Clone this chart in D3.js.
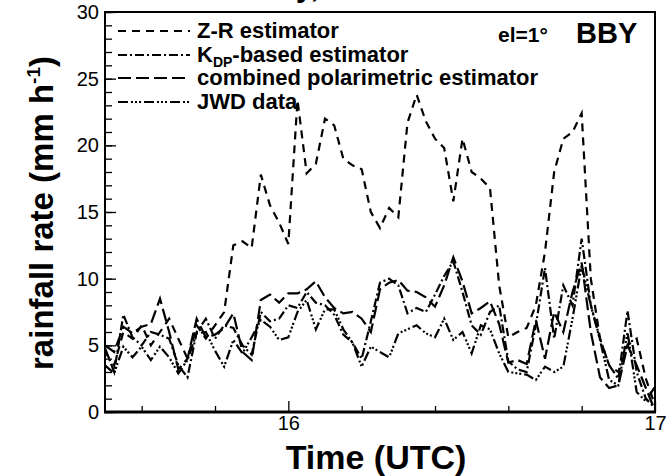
<!DOCTYPE html>
<html>
<head>
<meta charset="utf-8">
<script src="https://cdn.jsdelivr.net/npm/d3@7"></script>
<style>
  body { margin: 0; background: #fff; }
  svg text { font-family: "Liberation Sans", Arial, Helvetica, sans-serif; fill: #000; }
</style>
</head>
<body>
<svg id="chart" width="666" height="476"></svg>
<script>
// minutes after 15 UTC
var minutes = [30, 31.5, 33, 34.5, 36, 37.5, 39, 40.5, 42, 43.5,
  45, 46.5, 48, 49.5, 51, 52.5, 54, 55.5, 57, 58.5,
  60, 61.5, 63, 64.5, 66, 67.5, 69, 70.5, 72, 73.5,
  75, 76.5, 78, 79.5, 81, 82.5, 84, 85.5, 87, 88.5,
  90, 91.5, 93, 94.5, 96, 97.5, 99, 100.5, 102, 103.5,
  105, 106.5, 108, 109.5, 111, 112.5, 114, 115.5, 117, 118.5, 120];

var zrValues = [4.5, 3.5, 6.0, 5.5, 6.5, 5.0, 6.0, 7.0, 5.5, 4.0,
  6.5, 5.5, 6.5, 7.5, 12.5, 12.8, 12.3, 17.8, 15.5, 14.2,
  12.6, 23.4, 17.9, 18.6, 22.0, 21.5, 19.0, 18.5, 18.2, 15.0,
  13.8, 15.3, 14.6, 21.7, 23.8, 21.8, 20.5, 19.8, 15.8, 20.5,
  18.0, 17.5, 16.8, 9.5, 5.6, 6.0, 6.3, 8.0, 12.0, 18.0,
  20.5, 21.0, 22.4, 10.0, 5.5, 3.5, 3.0, 5.0, 5.5, 2.5, 0.5];

var kdpValues = [4.8, 3.0, 7.3, 5.6, 5.0, 6.0, 5.8, 5.5, 3.5, 2.6,
  6.0, 7.0, 5.5, 6.5, 6.3, 5.0, 4.3, 7.5, 6.8, 7.0,
  8.0, 7.8, 9.0, 8.2, 8.0, 7.3, 5.8, 5.2, 4.0, 6.8,
  9.7, 10.0, 9.5, 7.4, 7.8, 7.5, 8.8, 10.2, 11.3, 9.0,
  6.5, 5.8, 7.5, 8.0, 3.8, 3.2, 3.0, 6.5, 10.8, 5.5,
  9.5, 8.0, 13.0, 8.0, 5.5, 3.5, 2.5, 7.6, 3.0, 1.0, 0.3];

var combinedValues = [5.0, 4.5, 6.4, 5.9, 6.4, 6.6, 8.5, 6.0, 3.2, 4.0,
  7.0, 5.6, 5.8, 6.3, 7.4, 4.5, 3.9, 8.4, 8.8, 8.2,
  8.9, 8.9, 9.2, 9.8, 8.6, 7.8, 7.4, 7.5, 7.0, 6.0,
  9.2, 9.7, 9.9, 9.1, 9.0, 8.6, 7.9, 9.5, 11.6, 9.8,
  7.4, 7.8, 8.3, 6.6, 3.7, 3.9, 3.6, 6.9, 4.0, 7.5,
  6.0, 9.0, 11.2, 6.0, 2.6, 1.8, 2.0, 5.0, 3.5, 1.8, 0.1];

var jwdValues = [3.5, 2.9, 4.9, 4.1, 4.9, 3.9, 4.9, 4.1, 2.9, 3.9,
  5.9, 6.0, 4.6, 3.4, 5.4, 4.4, 5.6, 6.9, 6.4, 5.4,
  5.6, 7.5, 8.4, 6.2, 7.7, 7.7, 6.2, 5.2, 3.4, 4.9,
  4.5, 4.1, 5.9, 6.2, 6.5, 5.9, 5.6, 7.0, 5.4, 6.0,
  4.4, 6.5, 6.2, 4.4, 3.0, 2.9, 2.8, 2.4, 3.4, 3.0,
  3.4, 7.0, 11.0, 8.0, 5.4, 2.4, 2.0, 6.0, 1.5, 0.8, 1.9];

var xMajorTicks = [16, 17];
var xMinorTicks = [15.6, 15.8, 16.2, 16.4, 16.6, 16.8];
var yMajorTicks = [0, 5, 10, 15, 20, 25, 30];

var series = [
  { name: "zr", values: zrValues, dash: "8,6" },
  { name: "kdp", values: kdpValues, dash: "9,3,2,3" },
  { name: "combined", values: combinedValues, dash: "13,5" },
  { name: "jwd", values: jwdValues, dash: "10,3,2,2,2,2,2,3" }
];

var svg = d3.select("#chart");
var plotLeft = 105, plotRight = 655, plotTop = 12, plotBottom = 412;

var x = d3.scaleLinear().domain([15.5, 17]).range([plotLeft, plotRight]);
var y = d3.scaleLinear().domain([0, 30]).range([plotBottom, plotTop]);

// cut-off title at the very top
svg.append("text")
  .attr("x", 296).attr("y", -3)
  .style("font-size", "30px").style("font-weight", "bold")
  .text("y,");

// y axis: minor ticks, then major ticks with labels
svg.append("g")
  .attr("transform", "translate(" + plotLeft + ",0)")
  .call(d3.axisLeft(y).ticks(30).tickSizeInner(-7).tickSizeOuter(0).tickFormat(""))
  .call(function (g) { g.select(".domain").remove(); });

svg.append("g")
  .attr("transform", "translate(" + plotLeft + ",0)")
  .call(d3.axisLeft(y).tickValues(yMajorTicks).tickSizeInner(-11).tickSizeOuter(0).tickPadding(6))
  .call(function (g) {
    g.select(".domain").remove();
    g.selectAll("text").style("font-size", "20px").style("font-family", "Liberation Sans, Arial, sans-serif");
  });

// x axis
svg.append("g")
  .attr("transform", "translate(0," + plotBottom + ")")
  .call(d3.axisBottom(x).tickValues(xMinorTicks).tickSizeInner(-6).tickSizeOuter(0).tickFormat(""))
  .call(function (g) { g.select(".domain").remove(); });

svg.append("g")
  .attr("transform", "translate(0," + plotBottom + ")")
  .call(d3.axisBottom(x).tickValues(xMajorTicks).tickSizeInner(-11).tickSizeOuter(0).tickPadding(4).tickFormat(d3.format("d")))
  .call(function (g) {
    g.select(".domain").remove();
    g.selectAll("text").style("font-size", "20px").style("font-family", "Liberation Sans, Arial, sans-serif");
  });

svg.selectAll(".tick line").attr("stroke", "#000").attr("stroke-width", 1.3);

// frame
svg.append("rect")
  .attr("x", plotLeft).attr("y", plotTop)
  .attr("width", plotRight - plotLeft).attr("height", plotBottom - plotTop)
  .attr("fill", "none").attr("stroke", "#000").attr("stroke-width", 2);
svg.append("line")
  .attr("x1", plotLeft - 1).attr("x2", plotRight + 1)
  .attr("y1", plotBottom).attr("y2", plotBottom)
  .attr("stroke", "#000").attr("stroke-width", 3);

// data lines
var line = d3.line()
  .x(function (d, i) { return x(15 + minutes[i] / 60); })
  .y(function (d) { return y(d); });

svg.selectAll("path.series")
  .data(series)
  .enter().append("path")
  .attr("class", "series")
  .attr("d", function (s) { return line(s.values); })
  .attr("fill", "none")
  .attr("stroke", "#000")
  .attr("stroke-width", 2.2)
  .attr("stroke-dasharray", function (s) { return s.dash; });

// legend
var legendY = [31, 55, 78, 102];
series.forEach(function (s, i) {
  svg.append("line")
    .attr("x1", 118).attr("x2", 190)
    .attr("y1", legendY[i]).attr("y2", legendY[i])
    .attr("stroke", "#000").attr("stroke-width", 2.2)
    .attr("stroke-dasharray", s.dash);
});

var lt = svg.append("g").style("font-size", "22px").style("font-weight", "bold");
lt.append("text").attr("x", 197).attr("y", legendY[0] + 7).text("Z-R estimator");
var kt = lt.append("text").attr("x", 197).attr("y", legendY[1] + 7);
kt.append("tspan").text("K");
kt.append("tspan").attr("dy", 5).style("font-size", "14px").text("DP");
kt.append("tspan").attr("dy", -5).text("-based estimator");
lt.append("text").attr("x", 197).attr("y", legendY[2] + 7).text("combined polarimetric estimator");
lt.append("text").attr("x", 197).attr("y", legendY[3] + 7).text("JWD data");

// annotations
svg.append("text").attr("x", 498).attr("y", 42)
  .style("font-size", "21px").style("font-weight", "bold").text("el=1°");
svg.append("text").attr("x", 576).attr("y", 43)
  .style("font-size", "29px").style("font-weight", "bold").text("BBY");

// axis titles
svg.append("text")
  .attr("x", 376).attr("y", 469)
  .attr("text-anchor", "middle")
  .style("font-size", "34px").style("font-weight", "bold")
  .text("Time (UTC)");

var yt = svg.append("text")
  .attr("transform", "translate(53,213) rotate(-90)")
  .attr("text-anchor", "middle")
  .style("font-size", "33px").style("font-weight", "bold");
yt.append("tspan").text("rainfall rate (mm h");
yt.append("tspan").attr("dy", -13).style("font-size", "19px").text("-1");
yt.append("tspan").attr("dy", 13).text(")");
</script>
</body>
</html>
